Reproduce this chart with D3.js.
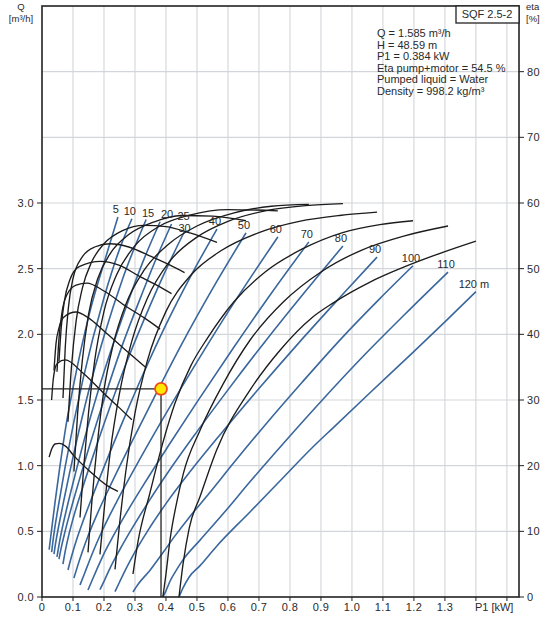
<!DOCTYPE html>
<html><head><meta charset="utf-8">
<script src="https://cdn.jsdelivr.net/npm/d3@7"></script>
<style>
body{margin:0;background:#fff}
svg text{font-family:"Liberation Sans",Arial,Helvetica,sans-serif;fill:#2a2a2a}
</style>
</head><body>
<svg id="chart" width="542" height="622"></svg>
<script>
// ---------- data ----------
const heads = [5,10,15,20,25,30,40,50,60,70,80,90,100,110,120];
const headLabels = ["5","10","15","20","25","30","40","50","60","70","80","90","100","110","120 m"];

// flow Q [m3/h] against P1 [kW], one list of [P1, Q] per head
const flowByHead = [
 [[.023,.36],[.032,.532],[.042,.72],[.056,.964],[.078,1.313],[.101,1.604],[.155,2.177],[.209,2.613],[.245,2.894]],
 [[.031,.342],[.036,.437],[.042,.537],[.05,.654],[.075,.995],[.132,1.655],[.2,2.279],[.25,2.647],[.29,2.88]],
 [[.0387,.327],[.045,.425],[.055,.553],[.07,.731],[.11,1.17],[.15,1.563],[.2,1.985],[.26,2.422],[.336,2.874]],
 [[.0484,.305],[.055,.399],[.065,.52],[.08,.676],[.11,.96],[.145,1.274],[.2,1.713],[.273,2.218],[.33,2.578],[.381,2.857]],
 [[.0548,.289],[.062,.374],[.072,.476],[.09,.639],[.12,.888],[.19,1.428],[.25,1.857],[.316,2.268],[.37,2.585],[.418,2.84]],
 [[.0677,.251],[.075,.349],[.085,.458],[.1,.594],[.13,.825],[.17,1.11],[.219,1.444],[.28,1.829],[.35,2.226],[.41,2.542],[.46,2.785]],
 [[.0839,.206],[.095,.306],[.11,.425],[.13,.562],[.16,.75],[.2,.989],[.26,1.333],[.33,1.717],[.4,2.074],[.48,2.444],[.5645,2.802]],
 [[.103,.145],[.115,.237],[.13,.344],[.15,.474],[.18,.642],[.22,.846],[.28,1.136],[.36,1.511],[.45,1.922],[.55,2.346],[.658,2.772]],
 [[.1226,.091],[.135,.165],[.15,.257],[.17,.375],[.2,.533],[.24,.721],[.3,.983],[.38,1.316],[.48,1.712],[.6,2.169],[.761,2.742]],
 [[.1484,.053],[.16,.118],[.18,.227],[.2,.331],[.23,.465],[.27,.631],[.33,.863],[.41,1.159],[.5,1.484],[.62,1.905],[.74,2.313],[.861,2.704]],
 [[.187,.056],[.2,.1195],[.22,.2224],[.25,.356],[.29,.52],[.34,.711],[.41,.961],[.5,1.259],[.6,1.577],[.72,1.946],[.85,2.328],[.971,2.673]],
 [[.2355,.0404],[.25,.1123],[.27,.2096],[.3,.343],[.34,.5],[.4,.711],[.48,.961],[.58,1.251],[.7,1.587],[.83,1.939],[.96,2.278],[1.081,2.588]],
 [[.2935,.0378],[.31,.0969],[.348,.2021],[.39,.337],[.429,.4653],[.48,.6212],[.535,.777],[.62,1.026],[.72,1.31],[.84,1.637],[.97,1.979],[1.09,2.272],[1.197,2.522]],
 [[.39,0],[.4,.0468],[.413,.1201],[.435,.2108],[.456,.2865],[.51,.433],[.585,.635],[.671,.877],[.78,1.173],[.9,1.489],[1.03,1.818],[1.17,2.151],[1.31,2.474]],
 [[.442,0],[.455,.0697],[.475,.1528],[.51,.239],[.5635,.3867],[.671,.6476],[.77,.889],[.87,1.1328],[.94,1.2902],[1.06,1.5588],[1.197,1.863],[1.3,2.095],[1.4,2.325]]
];

// efficiency eta [%] against P1 [kW], one list of [P1, eta] per head
const etaByHead = [
 [[.023,21.3],[.032,22.6],[.042,23.3],[.056,23.4],[.078,22.9],[.101,21.6],[.155,19.1],[.209,17.0],[.245,16.1]],
 [[.031,30.0],[.036,33.0],[.042,34.8],[.05,35.6],[.075,36.1],[.132,34.1],[.2,31.0],[.25,28.8],[.29,27.0]],
 [[.0387,34.5],[.045,38.5],[.055,41.0],[.07,42.6],[.11,43.4],[.15,42.5],[.2,40.5],[.26,38.0],[.336,34.9]],
 [[.0484,34.3],[.055,39.5],[.065,43.5],[.08,46.0],[.11,47.5],[.145,47.8],[.2,46.6],[.273,44.2],[.33,42.5],[.381,40.8]],
 [[.0548,35.9],[.062,41],[.072,45],[.09,48.3],[.12,50.3],[.19,51.1],[.25,50.5],[.316,48.8],[.37,47.5],[.418,46.2]],
 [[.0677,30.3],[.075,38],[.085,44],[.1,48.5],[.13,51.8],[.17,53.3],[.219,53.8],[.28,53.3],[.35,51.9],[.41,50.6],[.46,49.4]],
 [[.0839,26.7],[.095,35],[.11,42],[.13,47],[.16,51],[.2,53.8],[.26,55.8],[.33,56.6],[.4,56.4],[.48,55.4],[.5645,54.0]],
 [[.103,19.1],[.115,28],[.13,36],[.15,43],[.18,48.5],[.22,52.3],[.28,55.2],[.36,57.1],[.45,58.1],[.55,58.0],[.658,57.3]],
 [[.1226,12.1],[.135,20],[.15,28],[.17,36],[.2,43.5],[.24,49],[.3,53.5],[.38,56.5],[.48,58.2],[.6,59.0],[.761,58.8]],
 [[.1484,6.8],[.16,14],[.18,24],[.2,31.5],[.23,38.5],[.27,44.5],[.33,49.8],[.41,53.8],[.5,56.5],[.62,58.5],[.74,59.5],[.861,59.8]],
 [[.187,6.5],[.2,13],[.22,22],[.25,31],[.29,39],[.34,45.5],[.41,51],[.5,54.8],[.6,57.2],[.72,58.8],[.85,59.6],[.971,59.9]],
 [[.2355,4.2],[.25,11],[.27,19],[.3,28],[.34,36],[.4,43.5],[.48,49],[.58,52.8],[.7,55.5],[.83,57.2],[.96,58.1],[1.081,58.6]],
 [[.2935,3.5],[.31,8.5],[.348,15.8],[.39,23.5],[.429,29.5],[.48,35.2],[.535,39.5],[.62,45],[.72,49.5],[.84,53],[.97,55.5],[1.09,56.7],[1.197,57.3]],
 [[.39,0],[.4,3.5],[.413,8.7],[.435,14.5],[.456,18.8],[.51,25.4],[.585,32.5],[.671,39.1],[.78,45],[.9,49.5],[1.03,52.8],[1.17,55],[1.31,56.5]],
 [[.442,0],[.455,5],[.475,10.5],[.51,15.3],[.5635,22.4],[.671,31.5],[.77,37.7],[.87,42.5],[.94,44.8],[1.06,48],[1.197,50.8],[1.3,52.6],[1.4,54.2]]
];

const p1Ticks = [0,0.1,0.2,0.3,0.4,0.5,0.6,0.7,0.8,0.9,1.0,1.1,1.2,1.3,1.4,1.5];
const p1TickLabels = ["0","0.1","0.2","0.3","0.4","0.5","0.6","0.7","0.8","0.9","1.0","1.1","1.2","1.3","",""];
const qTicks = [0,0.5,1.0,1.5,2.0,2.5,3.0];
const qTickLabels = ["0.0","0.5","1.0","1.5","2.0","2.5","3.0"];
const qGrid = [0.5,1.0,1.5,2.0,2.5,3.0,3.5,4.0];
const etaTicks = [0,10,20,30,40,50,60,70,80];
const dutyQ = 1.585, dutyP1 = 0.384;
const infoLines = ["Q = 1.585 m\u00b3/h","H = 48.59 m","P1 = 0.384 kW","Eta pump+motor = 54.5 %","Pumped liquid = Water","Density = 998.2 kg/m\u00b3"];
const pumpName = "SQF 2.5-2";

// ---------- layout ----------
const L = 42, R = 519, T = 6, B = 597;
const x = d3.scaleLinear().domain([0, 1.539]).range([L, R]);
const yQ = d3.scaleLinear().domain([0, 4.5]).range([B, T]);
const yEta = d3.scaleLinear().domain([0, 90]).range([B, T]);

const svg = d3.select("#chart");
const gridC = "#d2d5d9";

// grid
svg.append("g").selectAll("line").data(p1Ticks.filter(d => d > 0)).join("line")
  .attr("x1", d => x(d)).attr("x2", d => x(d)).attr("y1", T).attr("y2", B)
  .attr("stroke", gridC).attr("stroke-width", 1.1);
svg.append("g").selectAll("line").data(qGrid).join("line")
  .attr("x1", L).attr("x2", R).attr("y1", d => yQ(d)).attr("y2", d => yQ(d))
  .attr("stroke", gridC).attr("stroke-width", 1.1);

// curves
const flowLine = d3.line().x(d => x(d[0])).y(d => yQ(d[1])).curve(d3.curveMonotoneX);
const etaLine = d3.line().x(d => x(d[0])).y(d => yEta(d[1])).curve(d3.curveMonotoneX);

svg.append("g").selectAll("path").data(flowByHead).join("path")
  .attr("d", flowLine).attr("fill", "none").attr("stroke", "#3a679c").attr("stroke-width", 1.6);
svg.append("g").selectAll("path").data(etaByHead).join("path")
  .attr("d", etaLine).attr("fill", "none").attr("stroke", "#1c1c1c").attr("stroke-width", 1.35);

// head labels
const labelShift = {15:[2,-7], 20:[7,-8], 25:[12,-8], 30:[0,-3]};
svg.append("g").selectAll("text").data(heads).join("text")
  .attr("x", (h, i) => { const p = flowByHead[i][flowByHead[i].length-1]; return x(p[0]) + (labelShift[h] ? labelShift[h][0] : -2); })
  .attr("y", (h, i) => { const p = flowByHead[i][flowByHead[i].length-1]; return yQ(p[1]) + (labelShift[h] ? labelShift[h][1] : -8) + 4; })
  .attr("text-anchor", "middle").attr("font-size", 11)
  .text((h, i) => headLabels[i]);

// duty point
svg.append("path")
  .attr("d", `M${L},${yQ(dutyQ)}H${x(dutyP1)}V${B}`)
  .attr("fill", "none").attr("stroke", "#222").attr("stroke-width", 1.3);
svg.append("circle").attr("cx", x(dutyP1)).attr("cy", yQ(dutyQ)).attr("r", 6)
  .attr("fill", "#ffe800").attr("stroke", "#f04a1e").attr("stroke-width", 1.8);

// frame
svg.append("rect").attr("x", L).attr("y", T).attr("width", R - L).attr("height", B - T)
  .attr("fill", "none").attr("stroke", "#222").attr("stroke-width", 1.6);

// axes
const ax = svg.append("g");
ax.selectAll(".lt").data(qTicks).join("line")
  .attr("x1", L - 5).attr("x2", L).attr("y1", d => yQ(d)).attr("y2", d => yQ(d)).attr("stroke", "#222");
ax.selectAll(".ll").data(qTicks).join("text")
  .attr("x", L - 8).attr("y", d => yQ(d) + 4).attr("text-anchor", "end").attr("font-size", 11)
  .attr("letter-spacing", 0.4).text((d, i) => qTickLabels[i]);
ax.selectAll(".rt").data(etaTicks).join("line")
  .attr("x1", R).attr("x2", R + 5).attr("y1", d => yEta(d)).attr("y2", d => yEta(d)).attr("stroke", "#222");
ax.selectAll(".rl").data(etaTicks).join("text")
  .attr("x", R + 8).attr("y", d => yEta(d) + 4).attr("font-size", 11)
  .attr("letter-spacing", 0.4).text(d => d);
ax.selectAll(".bt").data(p1Ticks).join("line")
  .attr("x1", d => x(d)).attr("x2", d => x(d)).attr("y1", B).attr("y2", B + 4).attr("stroke", "#222");
ax.selectAll(".bl").data(p1Ticks).join("text")
  .attr("x", d => x(d)).attr("y", B + 14).attr("text-anchor", "middle").attr("font-size", 11)
  .attr("letter-spacing", 0.4).text((d, i) => p1TickLabels[i]);
svg.append("text").attr("x", x(1.4) - 1).attr("y", B + 14).attr("font-size", 11).text("P1 [kW]");

// axis titles
svg.append("text").attr("x", 21).attr("y", 9.5).attr("text-anchor", "middle").attr("font-size", 9.5).text("Q");
svg.append("text").attr("x", 21).attr("y", 21.5).attr("text-anchor", "middle").attr("font-size", 9.5).text("[m\u00b3/h]");
svg.append("text").attr("x", 526).attr("y", 10).attr("font-size", 9.5).text("eta");
svg.append("text").attr("x", 526).attr("y", 21.5).attr("font-size", 9.5).text("[%]");

// info block
svg.append("rect").attr("x", 456).attr("y", T).attr("width", R - 456).attr("height", 17)
  .attr("fill", "#fff").attr("stroke", "#222").attr("stroke-width", 1.3);
svg.append("text").attr("x", 487).attr("y", 18).attr("text-anchor", "middle").attr("font-size", 11).text(pumpName);
svg.append("g").selectAll("text").data(infoLines).join("text")
  .attr("x", 377).attr("y", (d, i) => 37 + i * 11.6).attr("font-size", 11).text(d => d);
</script>
</body></html>
